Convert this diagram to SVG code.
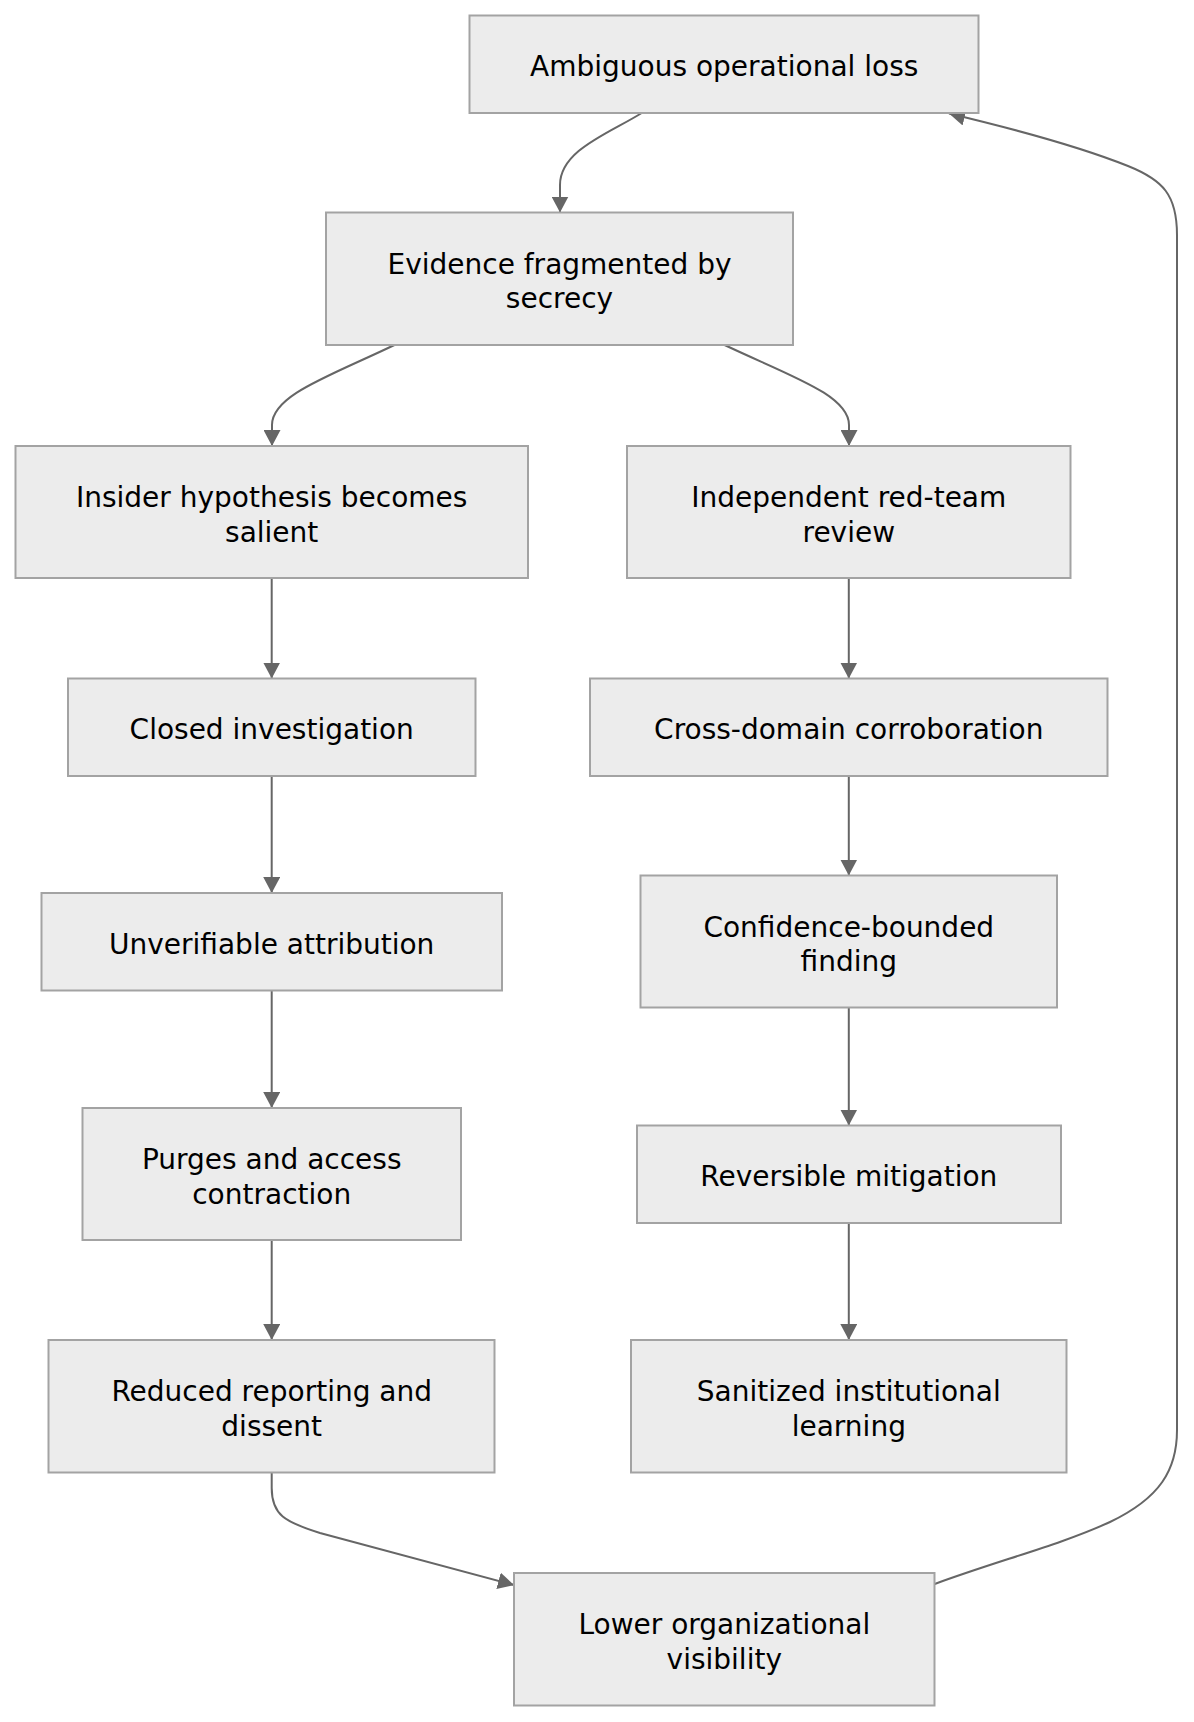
<svg xmlns="http://www.w3.org/2000/svg" width="1194" height="1722" viewBox="0 0 1194 1722">
<style>
.node rect{fill:#ECECEC;stroke:#A3A3A3;stroke-width:2}
.node text{font-family:"DejaVu Sans",sans-serif;font-size:28px;fill:#000;text-anchor:middle}
.edge{fill:none;stroke:#666;stroke-width:2;marker-end:url(#arr)}
</style>
<defs>
<marker id="arr" markerUnits="userSpaceOnUse" markerWidth="17" markerHeight="17" refX="16" refY="8.5" orient="auto" viewBox="0 0 17 17">
<path d="M0,0 L16,8.5 L0,17 z" fill="#666"/>
</marker>
</defs>
<rect width="1194" height="1722" fill="#fff"/>
<g id="connectors">
<path class="edge" d="M641.7,113 C610,133 560,150 560,185 L560,212.5"/>
<path class="edge" d="M394.4,345 C330,376 272,395 272,425 L272,446"/>
<path class="edge" d="M724.6,345 C790,376 849,395 849,425 L849,446"/>
<path class="edge" d="M271.7,578 L271.7,678.5"/>
<path class="edge" d="M271.7,776 L271.7,893"/>
<path class="edge" d="M271.7,990.5 L271.7,1108"/>
<path class="edge" d="M271.7,1240 L271.7,1340"/>
<path class="edge" d="M848.8,578 L848.8,678.5"/>
<path class="edge" d="M848.8,776 L848.8,875.5"/>
<path class="edge" d="M848.8,1007.5 L848.8,1125.5"/>
<path class="edge" d="M848.8,1223 L848.8,1340"/>
<path class="edge" d="M271.7,1472.5 L271.7,1488 C271.7,1515 285,1522 320,1533 L514,1585"/>
<path class="edge" d="M934.7,1584 C1000,1560 1060,1545 1110,1522 C1160,1498 1177,1470 1177,1430 L1177,235 C1177,195 1163,180 1128,166 C1078,146 1010,128 949,113.5"/>
</g>
<g id="n1" class="node"><rect x="469.5" y="15.5" width="509" height="97.5"/><text x="724.2" y="76.3">Ambiguous operational loss</text></g>
<g id="n2" class="node"><rect x="326" y="212.5" width="467" height="132.5"/><text x="559.5" y="273.7">Evidence fragmented by</text><text x="559.5" y="308.2">secrecy</text></g>
<g id="n3" class="node"><rect x="15.5" y="446" width="512.5" height="132"/><text x="271.7" y="507">Insider hypothesis becomes</text><text x="271.7" y="541.5">salient</text></g>
<g id="n4" class="node"><rect x="68" y="678.5" width="407.5" height="97.5"/><text x="271.7" y="739.3">Closed investigation</text></g>
<g id="n5" class="node"><rect x="41.5" y="893" width="460.5" height="97.5"/><text x="271.7" y="953.8">Unverifiable attribution</text></g>
<g id="n6" class="node"><rect x="82.5" y="1108" width="378.5" height="132"/><text x="271.7" y="1169">Purges and access</text><text x="271.7" y="1203.5">contraction</text></g>
<g id="n7" class="node"><rect x="48.5" y="1340" width="446" height="132.5"/><text x="271.7" y="1401.2">Reduced reporting and</text><text x="271.7" y="1435.7">dissent</text></g>
<g id="n8" class="node"><rect x="627" y="446" width="443.5" height="132"/><text x="848.8" y="507">Independent red-team</text><text x="848.8" y="541.5">review</text></g>
<g id="n9" class="node"><rect x="590" y="678.5" width="517.5" height="97.5"/><text x="848.8" y="739.3">Cross-domain corroboration</text></g>
<g id="n10" class="node"><rect x="640.5" y="875.5" width="416.5" height="132"/><text x="848.8" y="936.5">Confidence-bounded</text><text x="848.8" y="971">finding</text></g>
<g id="n11" class="node"><rect x="637" y="1125.5" width="424" height="97.5"/><text x="848.8" y="1186.3">Reversible mitigation</text></g>
<g id="n12" class="node"><rect x="631" y="1340" width="435.5" height="132.5"/><text x="848.8" y="1401.2">Sanitized institutional</text><text x="848.8" y="1435.7">learning</text></g>
<g id="n13" class="node"><rect x="514" y="1573" width="420.5" height="132.5"/><text x="724.3" y="1634.2">Lower organizational</text><text x="724.3" y="1668.7">visibility</text></g>
</svg>
